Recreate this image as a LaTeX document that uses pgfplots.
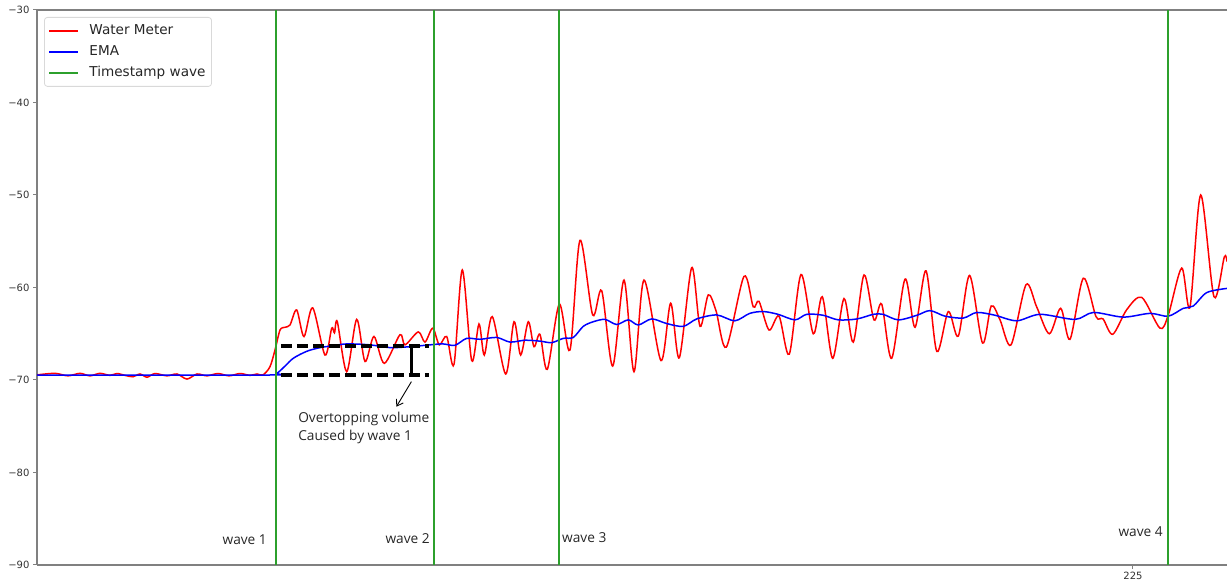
\documentclass[border=0pt]{standalone}
\usepackage{fontspec}
\setmainfont{DejaVu Sans}
\newfontfamily\annotfont{Open Sans}
\usepackage{pgfplots}
\pgfplotsset{compat=1.18}
\usetikzlibrary{arrows.meta}
\definecolor{wmred}{RGB}{255,0,0}
\definecolor{emablue}{RGB}{0,0,255}
\definecolor{wavegreen}{RGB}{44,160,44}
\definecolor{spine}{RGB}{128,128,128}

\begin{document}
\begin{tikzpicture}
\begin{axis}[
  name=ax,
  scale only axis,
  width=1190pt, height=555pt,
  xmin=0, xmax=244.3, ymin=-90, ymax=-30,
  axis x line=box, axis y line=left,
  axis line style={-, draw=spine, line width=1.3pt},
  xtick={225}, xticklabels={225},
  ytick={-90,-80,-70,-60,-50,-40,-30},
  yticklabels={−90,−80,−70,−60,−50,−40,−30},
  xtick pos=bottom, ytick pos=left,
  tick align=outside,
  major tick length=4pt,
  tick style={draw=spine, line width=1pt},
  ticklabel style={font=\fontsize{10}{12}\selectfont, text=black!80},
  clip=true,
  legend cell align=left,
  legend image code/.code={\draw[#1] (0pt,0pt) -- (29pt,0pt);},
  legend style={at={(0.0059,0.9874)}, anchor=north west,
    draw=black!15, line width=0.8pt, rounded corners=3pt, fill=white,
    font=\fontsize{13.6}{16}\selectfont, text=black!85,
    inner xsep=4pt, inner ysep=3pt,
    /tikz/every odd column/.append style={column sep=8pt},
    nodes={inner ysep=4pt, text height=10pt, text depth=3pt}},
]
% water meter signal
\addplot[wmred, line width=1.5pt, smooth, tension=0.5] coordinates {
(0,-69.45) (3.70,-69.28) (6.36,-69.55) (8.83,-69.28) (10.88,-69.55) (12.93,-69.28)
(14.99,-69.5) (16.42,-69.3) (18.06,-69.5) (19.71,-69.65) (21.15,-69.35) (22.58,-69.7)
(24.22,-69.3) (26.69,-69.55) (28.74,-69.35) (30.79,-69.9) (32.84,-69.35) (34.89,-69.55)
(37.16,-69.3) (39.42,-69.55) (41.67,-69.3) (43.73,-69.5) (45.16,-69.35) (46.40,-69.45)
(47.83,-68.56) (48.86,-66.76) (49.89,-64.6) (50.91,-64.3) (51.94,-64.05) (53.31,-62.43)
(54.81,-65.3) (56.60,-62.2) (59.12,-67.3) (60.50,-64.4) (61.07,-64.9) (61.65,-63.7)
(63.58,-69.1) (65.63,-63.45) (67.34,-68.0) (69.18,-65.3) (71.30,-68.2) (74.52,-65.1)
(75.55,-66.2) (78.28,-64.8) (79.65,-65.9) (81.24,-64.4) (82.59,-66.2) (84.11,-65.3)
(85.61,-68.3) (87.31,-58.1) (89.24,-67.9) (90.74,-63.95) (91.83,-67.3) (93.47,-63.15)
(96.22,-69.35) (97.93,-63.7) (99.30,-67.3) (100.86,-63.7) (102.03,-66.4) (103.26,-65.07)
(104.76,-68.85) (107.23,-61.8) (109.42,-66.76) (111.47,-54.9) (114.08,-62.97) (115.93,-60.35)
(118.19,-68.5) (120.51,-59.2) (122.56,-69.1) (124.61,-59.2) (128.10,-67.9) (130.09,-61.7)
(131.86,-67.6) (134.41,-57.85) (136.11,-64.2) (137.81,-60.8) (139.39,-62.5) (141.51,-66.45)
(145.14,-58.8) (147.05,-62.1) (148.22,-61.5) (150.28,-64.6) (152.33,-63.1) (154.44,-67.2)
(156.85,-58.6) (159.37,-65.0) (161.22,-61.0) (163.35,-67.65) (165.67,-61.2) (167.58,-65.9)
(169.78,-58.65) (171.83,-63.5) (173.41,-61.8) (175.46,-67.65) (178.20,-59.1) (180.25,-64.3)
(182.51,-58.2) (184.71,-66.9) (187.09,-62.6) (189.14,-65.25) (191.46,-58.7) (194.11,-66.0)
(195.90,-62.0) (197.70,-63.5) (199.96,-66.2) (203.04,-59.7) (205.23,-62.1) (207.82,-65.0)
(210.16,-62.25) (212.07,-65.6) (214.80,-59.0) (217.41,-63.15) (218.85,-63.4) (220.84,-65.06)
(223.71,-62.4) (226.79,-61.07) (230.54,-64.4) (232.25,-62.97) (235.00,-57.9) (236.70,-62.1)
(238.90,-50.0) (241.63,-61.0) (243.75,-56.7) (244.30,-57.2)
};
\addlegendentry{Water Meter}
% exponential moving average
\addplot[emablue, line width=1.5pt, smooth, tension=0.5] coordinates {
(0,-69.46) (47.83,-69.46) (49.21,-69.3) (50.91,-68.5) (52.62,-67.65) (55.37,-66.9)
(58.10,-66.5) (60.77,-66.3) (63.58,-66.1) (68.34,-66.2) (72.47,-66.5) (76.57,-66.4)
(80.68,-66.2) (83.35,-66.1) (85.81,-66.25) (88.21,-65.5) (90.95,-65.6) (94.37,-65.4)
(97.11,-65.9) (100.18,-65.7) (103.26,-65.8) (105.66,-65.96) (108.05,-65.5) (110.10,-65.4)
(112.15,-64.2) (114.21,-63.7) (116.61,-63.45) (119.01,-64.0) (121.39,-63.5) (123.44,-64.05)
(126.19,-63.4) (129.27,-63.9) (132.68,-64.2) (135.43,-63.4) (139.54,-62.97) (143.25,-63.6)
(146.32,-62.8) (149.10,-62.6) (152.12,-62.9) (155.61,-63.5) (158.01,-62.9) (161.36,-63.0)
(164.50,-63.5) (168.34,-63.4) (171.69,-62.9) (173.68,-62.9) (176.82,-63.5) (180.66,-63.0)
(183.33,-62.5) (186.41,-63.1) (190.17,-63.3) (192.92,-62.7) (196.67,-63.0) (201.13,-63.6)
(205.91,-62.9) (213.10,-63.45) (216.86,-62.7) (223.01,-63.2) (228.49,-62.8) (232.25,-63.1)
(235.33,-62.25) (237.39,-62.0) (240.14,-60.55) (244.30,-60.1)
};
\addlegendentry{EMA}
% wave timestamps
\addplot[wavegreen, line width=2pt] coordinates {(49.06,-90) (49.06,-30)};
\addlegendentry{Timestamp wave}
\addplot[wavegreen, line width=2pt, forget plot] coordinates {(81.50,-90) (81.50,-30)};
\addplot[wavegreen, line width=2pt, forget plot] coordinates {(107.16,-90) (107.16,-30)};
\addplot[wavegreen, line width=2pt, forget plot] coordinates {(232.19,-90) (232.19,-30)};
% overtopping volume marker
\addplot[black, line width=3.5pt, dash pattern=on 11pt off 5pt, forget plot] coordinates {(50.09,-66.3) (80.48,-66.3)};
\addplot[black, line width=3.5pt, dash pattern=on 11pt off 5pt, forget plot] coordinates {(50.09,-69.46) (80.48,-69.46)};
\addplot[black, line width=3pt, forget plot] coordinates {(76.98,-66.3) (76.98,-69.46)};
\draw[black, line width=0.9pt, -{Straight Barb[length=6pt, width=8pt]}] (axis cs:76.86,-70.18) -- (axis cs:73.78,-72.89);
\node[anchor=north west, align=left, inner sep=0pt, font=\annotfont\fontsize{13.7}{18}\selectfont, text=black!85]
  at (axis cs:53.6,-73.5) {Overtopping volume\\Caused by wave 1};
% wave labels
\node[anchor=east, inner sep=0pt, font=\annotfont\fontsize{13.7}{16}\selectfont, text=black!85] at (axis cs:47.22,-87.30) {wave 1};
\node[anchor=east, inner sep=0pt, font=\annotfont\fontsize{13.7}{16}\selectfont, text=black!85] at (axis cs:80.68,-87.19) {wave 2};
\node[anchor=west, inner sep=0pt, font=\annotfont\fontsize{13.7}{16}\selectfont, text=black!85] at (axis cs:107.78,-87.08) {wave 3};
\node[anchor=east, inner sep=0pt, font=\annotfont\fontsize{13.7}{16}\selectfont, text=black!85] at (axis cs:231.16,-86.43) {wave 4};
\end{axis}
\pgfresetboundingbox
\path[use as bounding box] ([shift={(-37pt,-20pt)}]ax.south west) rectangle ([shift={(0pt,10pt)}]ax.north east);
\end{tikzpicture}
\end{document}
